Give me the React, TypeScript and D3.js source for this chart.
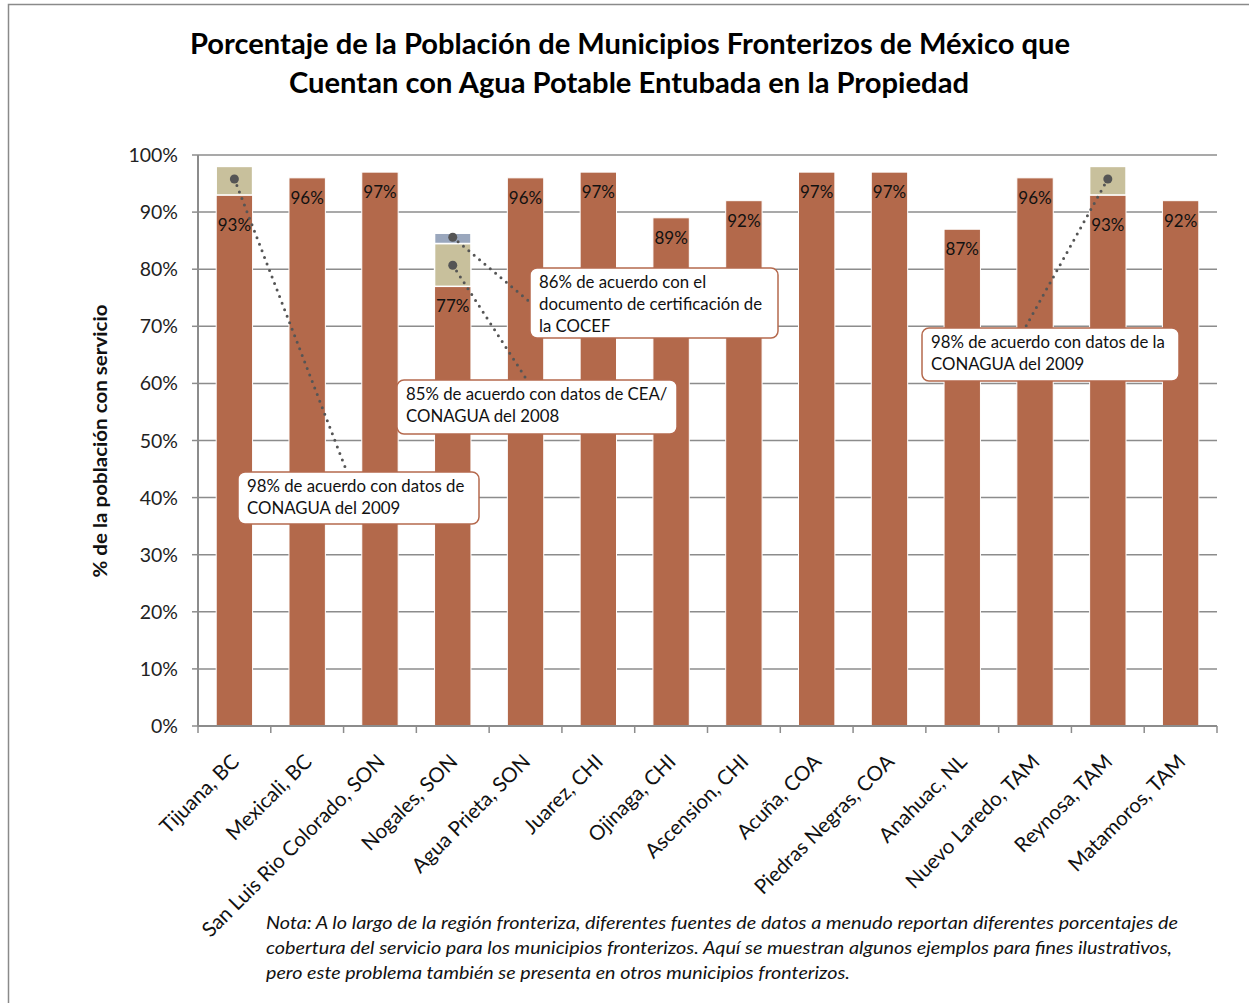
import React from "react";
import * as d3 from "d3";

const categories = [
  "Tijuana, BC", "Mexicali, BC", "San Luis Rio Colorado, SON", "Nogales, SON",
  "Agua Prieta, SON", "Juarez, CHI", "Ojinaga, CHI", "Ascension,  CHI",
  "Acuña, COA", "Piedras Negras, COA", "Anahuac, NL", "Nuevo Laredo, TAM",
  "Reynosa, TAM", "Matamoros, TAM",
];
const values = [93, 96, 97, 77, 96, 97, 89, 92, 97, 97, 87, 96, 93, 92];
// alternative source values stacked above the bars: [category, from, to, kind]
const altSegments: [string, number, number, string][] = [
  ["Tijuana, BC", 93, 98, "tan"],
  ["Nogales, SON", 77, 84.5, "tan"],
  ["Nogales, SON", 84.5, 86.3, "blue"],
  ["Reynosa, TAM", 93, 98, "tan"],
];
const yTicks = [0, 10, 20, 30, 40, 50, 60, 70, 80, 90, 100];
const titleLines = [
  "Porcentaje de la Población de Municipios Fronterizos de México que",
  "Cuentan con Agua Potable Entubada en la Propiedad",
];
const yTitle = "% de la población  con servicio";
const noteLines = [
  "Nota: A lo largo de la región fronteriza, diferentes fuentes de datos a menudo reportan diferentes porcentajes de",
  "cobertura del servicio para los municipios fronterizos. Aquí se muestran algunos ejemplos para fines ilustrativos,",
  "pero este problema también se presenta en otros municipios fronterizos.",
];
// callouts: dot anchored at (category, value) with text
const callouts = [
  { cat: "Tijuana, BC", val: 95.8, lines: ["98% de acuerdo con datos de", "CONAGUA  del 2009"] },
  { cat: "Nogales, SON", val: 80.7, lines: ["85% de acuerdo con datos de CEA/", "CONAGUA del 2008"] },
  { cat: "Nogales, SON", val: 85.6, lines: ["86% de acuerdo con el", "documento de certificación de", "la COCEF"] },
  { cat: "Reynosa, TAM", val: 95.8, lines: ["98% de acuerdo con datos de la", "CONAGUA del 2009"] },
];
// layout of callout boxes (pixels) and connector end points
const calloutBoxes = [
  { x: 238, y: 472, w: 241, h: 52, ex: 347, ey: 472 },
  { x: 397, y: 380, w: 280, h: 54, ex: 527, ey: 380 },
  { x: 530, y: 268, w: 248, h: 70, ex: 531, ey: 303 },
  { x: 922, y: 328, w: 257, h: 53, ex: 1025, ey: 328 },
];

const BAR = "#b3694b";
const TAN = "#c8c09c";
const BLUE = "#9aa7bd";
const GRID = "#8c8c8c";
const FONT = "Lato, 'Open Sans', sans-serif";

export default function App() {
  const W = 1249, H = 1003;
  const left = 198, right = 1217, top = 155, bottom = 726;
  const x = d3.scaleBand<string>().domain(categories).range([left, right]).paddingInner(0.5).paddingOuter(0.25);
  const y = d3.scaleLinear().domain([0, 100]).range([bottom, top]);
  const step = x.step();
  const bw = x.bandwidth();
  const cx = (c: string) => (x(c) as number) + bw / 2;
  const nudged = new Set(["Tijuana, BC", "Reynosa, TAM"]);

  const boundaries = d3.range(categories.length + 1).map((i) => left + i * step);

  return (
    <svg width={W} height={H} style={{ position: "absolute", left: 0, top: 0, background: "#fff" }} fontFamily={FONT}>
      <rect x={8.5} y={4.5} width={1260} height={1020} fill="#fff" stroke="#8a8a8a" strokeWidth={1.5} />
      {/* title */}
      <text x={630} y={54} textAnchor="middle" fontSize={28} fontWeight="bold" textLength={880} lengthAdjust="spacingAndGlyphs">{titleLines[0]}</text>
      <text x={629} y={93} textAnchor="middle" fontSize={28} fontWeight="bold" textLength={680} lengthAdjust="spacingAndGlyphs">{titleLines[1]}</text>

      {/* gridlines */}
      {yTicks.map((t) => (
        <g key={t}>
          {t > 0 && <line x1={left} x2={right} y1={y(t)} y2={y(t)} stroke={GRID} strokeWidth={1.5} />}
          <line x1={left - 6} x2={left} y1={y(t)} y2={y(t)} stroke={GRID} strokeWidth={1.5} />
          <text x={178} y={y(t) + 7} textAnchor="end" fontSize={19.5} fill="#222">{t}%</text>
        </g>
      ))}

      {/* bars */}
      {categories.map((c, i) => (
        <rect key={c} x={x(c)} y={y(values[i])} width={bw} height={bottom - y(values[i])} fill={BAR} stroke="#fff" strokeWidth={1} />
      ))}
      {altSegments.map(([c, a, b, k], i) => (
        <rect key={i} x={x(c)} y={y(b)} width={bw} height={y(a) - y(b)} fill={k === "tan" ? TAN : BLUE} stroke="#fff" strokeWidth={1.5} />
      ))}

      {/* data labels */}
      {categories.map((c, i) => (
        <text key={c} x={cx(c)} y={y(values[i]) + (nudged.has(c) ? 36 : 26)} textAnchor="middle" fontSize={17} fill="#111">{values[i]}%</text>
      ))}

      {/* axes */}
      <line x1={left} x2={left} y1={top} y2={bottom} stroke={GRID} strokeWidth={2} />
      <line x1={left} x2={right} y1={bottom} y2={bottom} stroke={GRID} strokeWidth={2} />
      {boundaries.map((b, i) => (
        <line key={i} x1={b} x2={b} y1={bottom} y2={bottom + 7} stroke={GRID} strokeWidth={1.5} />
      ))}

      {/* x labels */}
      {categories.map((c) => (
        <text key={c} transform={`translate(${cx(c) + 6},${763}) rotate(-45)`} textAnchor="end" fontSize={20.5} fill="#111">{c}</text>
      ))}

      {/* y title */}
      <text transform={`translate(107,441) rotate(-90)`} textAnchor="middle" fontSize={19.5} fontWeight="bold" fill="#111" textLength={273} lengthAdjust="spacingAndGlyphs">{yTitle}</text>

      {/* callouts */}
      {callouts.map((co, i) => {
        const b = calloutBoxes[i];
        const px = cx(co.cat), py = y(co.val);
        return (
          <g key={i}>
            <line x1={px} y1={py} x2={b.ex} y2={b.ey} stroke="#555" strokeWidth={3} strokeDasharray="0 7" strokeLinecap="round" />
            <circle cx={px} cy={py} r={4.5} fill="#555" />
          </g>
        );
      })}
      {callouts.map((co, i) => {
        const b = calloutBoxes[i];
        return (
          <g key={"b" + i}>
            <rect x={b.x} y={b.y} width={b.w} height={b.h} rx={7} fill="#fff" stroke="#b5694d" strokeWidth={1.5} />
            {co.lines.map((l, j) => (
              <text key={j} x={b.x + 9} y={b.y + 20 + j * 22} fontSize={16.8} fill="#111">{l}</text>
            ))}
          </g>
        );
      })}

      {/* note */}
      {noteLines.map((l, i) => (
        <text key={i} x={266} y={929 + i * 25} fontSize={17} fontStyle="italic" fill="#111"
          textLength={[912, 906, 584][i]} lengthAdjust="spacingAndGlyphs">{l}</text>
      ))}
    </svg>
  );
}
